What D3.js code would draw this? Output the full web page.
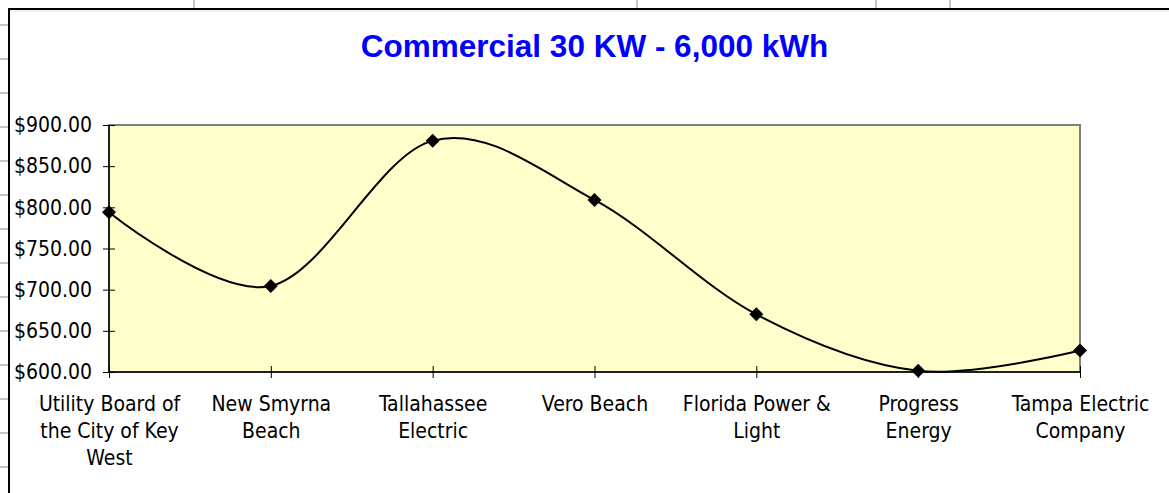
<!DOCTYPE html>
<html>
<head>
<meta charset="utf-8">
<script src="https://cdn.jsdelivr.net/npm/d3@7"></script>
<style>
  html, body { margin: 0; padding: 0; background: #fff; }
  svg { display: block; }
  .tick text { font-family: "DejaVu Sans Condensed", "DejaVu Sans", sans-serif; font-size: 21px; fill: #000; }
</style>
</head>
<body>
<div id="chart"></div>
<script>
const w = 1169;
const h = 493;

// chart data
const categories = ['Utility Board', 'New Smyrna Beach', 'Tallahassee Electric', 'Vero Beach',
  'Florida Power & Light', 'Progress Energy', 'Tampa Electric Company'];
const tickLines = [
  ['Utility Board of', 'the City of Key', 'West'],
  ['New Smyrna', 'Beach'],
  ['Tallahassee', 'Electric'],
  ['Vero Beach'],
  ['Florida Power &', 'Light'],
  ['Progress', 'Energy'],
  ['Tampa Electric', 'Company']
];
const costs = [794, 704.5, 881, 809, 670, 601.5, 626];
const yTicks = [600, 650, 700, 750, 800, 850, 900];
const title = 'Commercial 30 KW - 6,000 kWh';

// plot box
const plotL = 109, plotR = 1080, plotT = 125, plotB = 372;

const svg = d3.select('#chart').
append('svg').
attr('width', w).
attr('height', h);

// spreadsheet grid behind the chart
const gridColor = '#c6c6c6';
[194, 637, 876, 950].forEach(x => {
  svg.append('line').attr('x1', x).attr('x2', x).attr('y1', 0).attr('y2', 8).
  attr('stroke', gridColor).attr('stroke-width', 2);
});
d3.range(25, h, 34).forEach(y => {
  svg.append('line').attr('x1', 0).attr('x2', 8).attr('y1', y).attr('y2', y).
  attr('stroke', gridColor).attr('stroke-width', 2);
});

// chart area
svg.append('rect').
attr('x', 9).attr('y', 9).
attr('width', w).attr('height', h).
attr('fill', '#fff').
attr('stroke', '#000').
attr('stroke-width', 2);
svg.append('line').attr('x1', 10).attr('x2', w).attr('y1', 11).attr('y2', 11).
attr('stroke', '#e4e4e4').attr('stroke-width', 1);

svg.append('text').
attr('x', (plotL + plotR) / 2).
attr('y', 57).
attr('text-anchor', 'middle').
attr('font-family', '"Liberation Sans", Arial, sans-serif').
attr('font-weight', 'bold').
attr('font-size', '31.5px').
attr('fill', '#0000ff').
text(title);

const xScale = d3.scalePoint().
domain(categories).
range([plotL, plotR]);

const yScale = d3.scaleLinear().
domain([600, 900]).
range([plotB, plotT]);

// plot area
svg.append('rect').
attr('x', plotL).attr('y', plotT).
attr('width', plotR - plotL).attr('height', plotB - plotT).
attr('fill', '#ffffcc').
attr('stroke', '#808080').
attr('stroke-width', 2);

const yAxis = d3.axisLeft(yScale).
tickValues(yTicks).
tickSize(6).
tickPadding(11).
tickFormat(d => '$' + d3.format(',.2f')(d));
const gy = svg.append('g').
attr('transform', 'translate(' + plotL + ',0)').
call(yAxis);
gy.selectAll('.tick line').attr('x1', 6).attr('stroke', '#000');
gy.select('.domain').attr('stroke', '#000').attr('stroke-width', 1.5).attr('d', 'M0,' + plotT + 'V' + plotB);

const xAxis = d3.axisBottom(xScale).
tickSize(6).
tickFormat('');
const gx = svg.append('g').
attr('transform', 'translate(0,' + plotB + ')').
call(xAxis);
gx.selectAll('.tick line').attr('y1', -6).attr('stroke', '#000');
gx.select('.domain').attr('stroke', '#000').attr('stroke-width', 1.5).attr('d', 'M' + plotL + ',0H' + plotR);

gx.selectAll('.tick').each(function (d, i) {
  const t = d3.select(this).select('text').
  attr('y', 39).attr('dy', null);
  tickLines[i].forEach((line, j) => {
    t.append('tspan').attr('x', 0).attr('y', 39 + j * 27).text(line);
  });
});

// smoothed line like the spreadsheet one
const line = d3.line().
x((d, i) => xScale(categories[i])).
y(d => yScale(d)).
curve(d3.curveCardinal.tension(0));

svg.append('path').
datum(costs).
attr('d', line).
attr('fill', 'none').
attr('stroke', '#000').
attr('stroke-width', 2);

const diamond = 7;
svg.selectAll('.marker').
data(costs).
enter().
append('path').
attr('class', 'marker').
attr('transform', (d, i) => 'translate(' + xScale(categories[i]) + ',' + yScale(d) + ')').
attr('d', 'M0,' + -diamond + 'L' + diamond + ',0L0,' + diamond + 'L' + -diamond + ',0Z').
attr('fill', '#000');
</script>
</body>
</html>
